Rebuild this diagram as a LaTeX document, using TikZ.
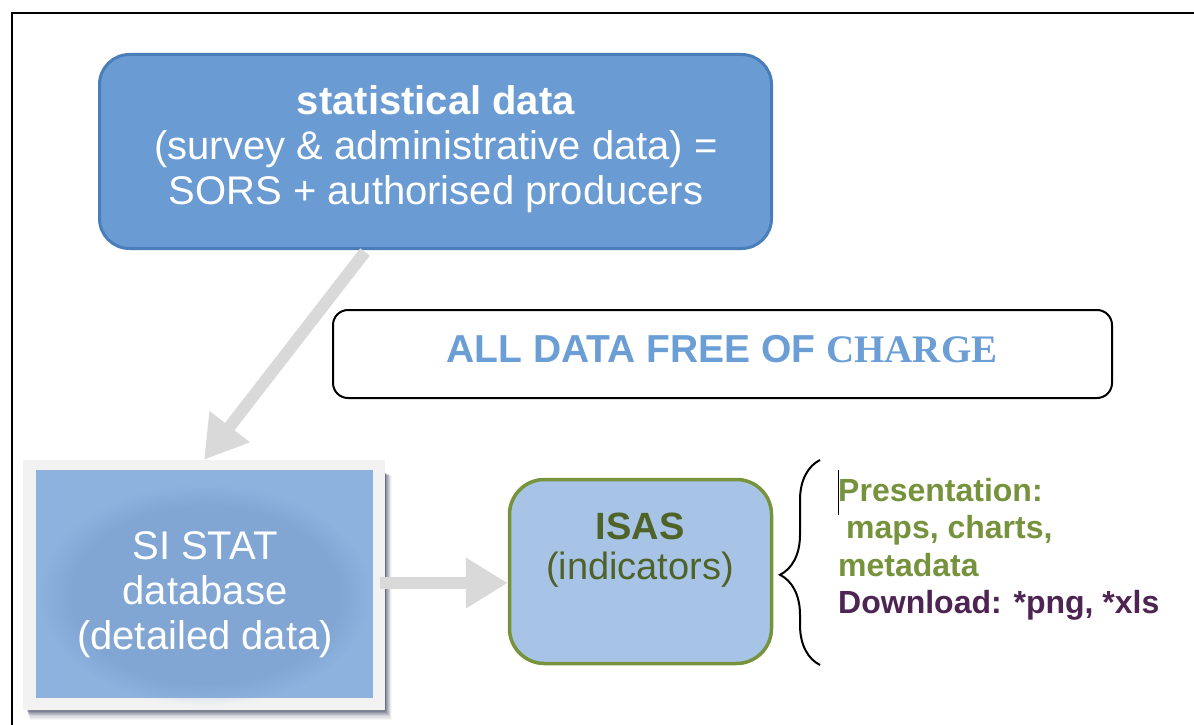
\documentclass[tikz,border=0pt]{standalone}
\usepackage{fontspec}
\setmainfont{Liberation Sans}
\newfontfamily\serifb{Liberation Serif}
\usetikzlibrary{arrows.meta,decorations.pathreplacing,fadings,calc}
\definecolor{topfill}{RGB}{106,155,211}
\definecolor{topdraw}{RGB}{74,126,187}
\definecolor{sifill}{RGB}{142,178,222}
\definecolor{siglow}{RGB}{100,135,185}
\definecolor{siframe}{RGB}{242,242,242}
\definecolor{sishadow}{RGB}{55,57,90}
\definecolor{isfill}{RGB}{167,196,231}
\definecolor{isdraw}{RGB}{119,147,60}
\definecolor{isdark}{RGB}{79,98,40}
\definecolor{grn}{RGB}{118,146,60}
\definecolor{purp}{RGB}{77,36,82}
\definecolor{freeblue}{RGB}{108,158,214}
\definecolor{arrgray}{RGB}{217,217,217}
\begin{document}
\begin{tikzpicture}[x=1pt,y=-1pt,
  bigtext/.style={font=\fontsize{40}{45}\selectfont},
  isastext/.style={font=\fontsize{38}{40}\selectfont},
  sidetext/.style={font=\fontsize{32}{38}\selectfont\bfseries, anchor=base west, inner sep=0},
  grayarrow/.style={draw=arrgray, line width=12, -{Triangle[length=42pt,width=48pt]}}]
\useasboundingbox (0,0) rectangle (1194,725);
\fill[white] (0,0) rectangle (1194,725);
% frame
\draw[line width=2] (12,725) -- (12,13) -- (1194,13);

% top box
\node[draw=topdraw, fill=topfill, line width=3, rounded corners=30,
      minimum width=672, minimum height=194] (top) at (435.5,151.5) {};
\node[bigtext, text=white, align=center] (toptxt) at (436,149)
  {\textbf{statistical data}\\(survey \& administrative data) =\\SORS + authorised producers};

% free of charge box
\node[draw=black, line width=2, rounded corners=15,
      minimum width=779, minimum height=88] (free) at (722.5,354) {};
\node[font=\fontsize{39}{40}\selectfont, text=freeblue, anchor=base] (freetxt) at (722,362)
  {\bfseries ALL DATA FREE OF {\serifb CHARGE}};

% SI STAT box with shadow
\foreach \i/\o in {1/0.30,2/0.26,3/0.22,4/0.18,5/0.15,6/0.12,7/0.09,8/0.07,9/0.05,10/0.04}
  \fill[sishadow, opacity=\o] (26+0.4*\i,472+0.4*\i) rectangle (384+0.8*\i,708+1.2*\i);
\node[fill=siframe, minimum width=362, minimum height=250, inner sep=0] (si) at (204,585) {};
\node[fill=sifill, minimum width=337, minimum height=228, inner sep=0] (siin) at (204.5,584) {};
\fill[siglow, opacity=0.28, path fading=circle with fuzzy edge 20 percent]
  (205,595) ellipse [x radius=165, y radius=110];
\node[bigtext, text=white, align=center] (sitxt) at (205,595)
  {SI STAT\\database\\(detailed data)};

% ISAS box
\node[fill=isfill, draw=isdraw, line width=3.5, rounded corners=35,
      minimum width=262, minimum height=184] (isas) at (640.5,571.5) {};
\node[isastext, text=isdark, align=center] (isastxt) at (640,550)
  {\textbf{ISAS}\\(indicators)};

% arrows
\coordinate (a1) at (365,252);
\draw[grayarrow] (a1) -- (si.north);
\coordinate (a2) at (380,583);
\draw[grayarrow] (a2) -- (a2 -| isas.west);

% brace
\coordinate (bb) at (820,665);
\coordinate (bt) at (820,460);
\draw[line width=2, decorate, decoration={brace, amplitude=40pt, aspect=0.44}] (bb) -- (bt);

% side text
\draw[line width=1] (838,470) -- (838,515);
\node[sidetext, text=grn] (p1) at (838,501) {Presentation:};
\node[sidetext, text=grn] (p2) at (846,538.5) {maps, charts,};
\node[sidetext, text=grn] (p3) at (838,576) {metadata};
\node[sidetext, text=purp] (p4) at (838,613.5) {Download: *png, *xls};
\end{tikzpicture}
\end{document}
